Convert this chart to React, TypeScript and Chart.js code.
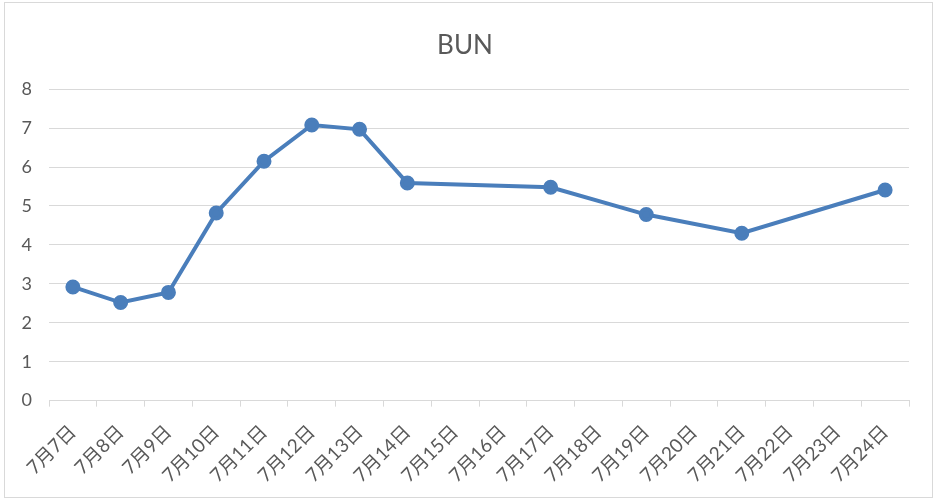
import React, { useEffect, useRef } from "react";
import { Chart, registerables } from "chart.js";

Chart.register(...registerables);

const categories = [
  "7月7日", "7月8日", "7月9日", "7月10日", "7月11日", "7月12日",
  "7月13日", "7月14日", "7月15日", "7月16日", "7月17日", "7月18日",
  "7月19日", "7月20日", "7月21日", "7月22日", "7月23日", "7月24日",
];
const bunValues: (number | null)[] = [
  2.92, 2.52, 2.78, 4.82, 6.15, 7.08,
  6.97, 5.59, null, null, 5.48, null,
  4.78, null, 4.3, null, null, 5.41,
];
const yTicks = [0, 1, 2, 3, 4, 5, 6, 7, 8];
const titleText = "BUN";

export default function App() {
  const ref = useRef<HTMLCanvasElement | null>(null);
  useEffect(() => {
    document.body.style.margin = "0";
    if (!ref.current) return;
    const font = "Lato, 'Noto Sans CJK SC', sans-serif";
    const chart = new Chart(ref.current, {
      type: "line",
      data: {
        labels: categories,
        datasets: [
          {
            label: titleText,
            data: bunValues,
            borderColor: "#4a7ebb",
            backgroundColor: "#4a7ebb",
            borderWidth: 4,
            pointRadius: 5.5,
            pointHoverRadius: 5.5,
            pointBackgroundColor: "#4a7ebb",
            pointBorderColor: "#4a7ebb",
            spanGaps: true,
            tension: 0,
          },
        ],
      },
      options: {
        animation: false,
        responsive: false,
        maintainAspectRatio: false,
        layout: { autoPadding: false, padding: { left: 21, right: 30, top: 14, bottom: 3 } },
        plugins: {
          legend: { display: false },
          tooltip: { enabled: false },
          title: {
            display: true,
            text: titleText,
            color: "#595959",
            font: { family: font, size: 26, weight: "normal" },
            padding: { top: 16, bottom: 28 },
          },
        },
        scales: {
          x: {
            offset: true,
            afterFit: (s: any) => {
              s.paddingLeft = 0;
              s.paddingRight = 0;
              s.getPadding = () => ({ left: 0, right: 0, top: 0, bottom: 0 });
            },
            grid: {
              offset: true,
              drawOnChartArea: false,
              drawTicks: true,
              tickLength: 6,
              color: "#d9d9d9",
            },
            border: { color: "#d9d9d9", width: 1 },
            ticks: {
              color: "#595959",
              font: { family: font, size: 19 },
              minRotation: 45,
              maxRotation: 45,
              autoSkip: false,
              padding: 14,
            },
          },
          y: {
            min: 0,
            max: 8,
            afterFit: (s: any) => {
              s.width = 28;
            },
            afterBuildTicks: (axis: any) => {
              axis.ticks = yTicks.map((v) => ({ value: v }));
            },
            grid: { color: "#d9d9d9", drawTicks: false },
            border: { display: false },
            ticks: {
              color: "#595959",
              font: { family: font, size: 18 },
              padding: 17,
            },
          },
        },
      },
    });
    return () => chart.destroy();
  }, []);
  return (
    <div style={{ position: "relative", width: 939, height: 504, background: "#fff" }}>
      <div
        style={{
          position: "absolute",
          left: 4,
          top: 2,
          width: 929,
          height: 496,
          border: "1px solid #d9d9d9",
          boxSizing: "border-box",
          pointerEvents: "none",
        }}
      />
      <canvas ref={ref} width={939} height={504} style={{ display: "block" }} />
    </div>
  );
}
